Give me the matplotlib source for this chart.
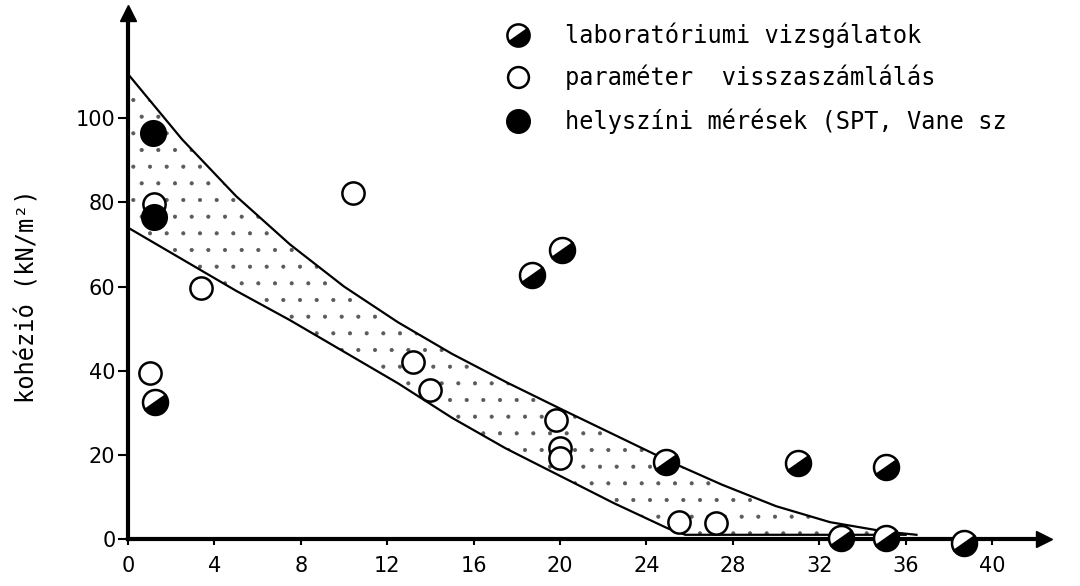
import matplotlib
matplotlib.use("Agg")
import matplotlib.pyplot as plt
import numpy as np
from matplotlib.markers import MarkerStyle
from matplotlib.transforms import Affine2D

# band limits
upper_x = [0.0, 2.5, 5.0, 7.5, 10.0, 12.5, 15.0, 17.5, 20.0, 22.5, 25.0, 27.5, 30.0, 32.5, 35.0, 36.5]
upper_y = [110.5, 95.0, 81.5, 70.0, 60.0, 51.5, 44.0, 37.3, 31.0, 24.8, 18.6, 12.9, 7.8, 4.0, 1.8, 1.0]
lower_x = [0.0, 2.5, 5.0, 7.5, 10.0, 12.5, 15.0, 17.5, 20.0, 22.5, 25.0, 25.8, 36.0]
lower_y = [74.0, 66.5, 59.0, 52.0, 44.5, 37.0, 28.8, 21.5, 15.0, 8.5, 2.5, 1.0, 1.0]

# laboratóriumi vizsgálatok (half filled)
lab_x = [1.25, 18.7, 20.1, 24.9, 31.0, 35.1, 33.0, 35.1, 38.7]
lab_y = [32.5, 62.7, 68.6, 18.2, 18.0, 17.1, 0.2, 0.2, -1.0]
# paraméter visszaszámlálás (open)
param_x = [1.2, 1.0, 3.4, 10.4, 13.2, 14.0, 19.8, 20.0, 20.0, 25.5, 27.2]
param_y = [79.5, 39.4, 59.6, 82.2, 42.0, 35.4, 28.3, 21.6, 19.2, 4.0, 3.8]
# helyszíni mérések (filled)
field_x = [1.15, 1.2]
field_y = [96.5, 76.5]

x_ticks = [0, 4, 8, 12, 16, 20, 24, 28, 32, 36, 40]
y_ticks = [0, 20, 40, 60, 80, 100]
labels = ["laboratóriumi vizsgálatok",
          "paraméter  visszaszámlálás",
          "helyszíni mérések (SPT, Vane sz"]

FONT = "DejaVu Sans Mono"
plt.rcParams["font.family"] = FONT
plt.rcParams["hatch.linewidth"] = 0.5

fig = plt.figure(figsize=(10.8, 5.86), dpi=100)
ax = fig.add_axes([0.1185, 0.0802, 0.8481, 0.8976])
ax.set_xlim(0, 42.4)
ax.set_ylim(0, 125)

for side in ["top", "right"]:
    ax.spines[side].set_visible(False)
for side in ["left", "bottom"]:
    ax.spines[side].set_linewidth(3)
    ax.spines[side].set_zorder(1)

ax.plot(1, 0, ">k", markersize=11, transform=ax.transAxes, clip_on=False)
ax.plot(0, 1, "^k", markersize=11, transform=ax.transAxes, clip_on=False)

ax.set_xticks(x_ticks)
ax.set_yticks(y_ticks)
ax.tick_params(axis="x", direction="out", length=4, width=1.5, pad=8, labelsize=15)
ax.tick_params(axis="y", direction="out", length=7, width=1.5, pad=2, labelsize=15)
for lbl in ax.get_xticklabels() + ax.get_yticklabels():
    lbl.set_family("DejaVu Sans")

# stippled band
band_x = np.r_[upper_x, lower_x[::-1]]
band_y = np.r_[upper_y, lower_y[::-1]]
ax.fill(band_x, band_y, facecolor="none", edgecolor="0.35", linewidth=0,
        hatch=".", zorder=1)
ax.plot(upper_x, upper_y, color="black", lw=1.6, zorder=2)
ax.plot(lower_x, lower_y, color="black", lw=1.6, zorder=2)

half = MarkerStyle("o", fillstyle="bottom", transform=Affine2D().rotate_deg(35))

ax.plot(param_x, param_y, "o", ms=16, mfc="white", mec="black", mew=1.8,
        ls="none", clip_on=False, zorder=3)
ax.plot(lab_x, lab_y, ls="none", marker=half, ms=18, mfc="black",
        mfcalt="white", mec="black", mew=1.8, clip_on=False, zorder=4)
ax.plot(field_x, field_y, "o", ms=18, mfc="black", mec="black", mew=1.5,
        ls="none", clip_on=False, zorder=4)

# legend
leg_mx = 0.4258
leg_tx = 0.477
rows = [0.958, 0.878, 0.795]
ax.plot(leg_mx, rows[0], ls="none", marker=half, ms=16, mfc="black",
        mfcalt="white", mec="black", mew=1.8, transform=ax.transAxes, clip_on=False)
ax.plot(leg_mx, rows[1], "o", ms=15, mfc="white", mec="black", mew=1.8,
        transform=ax.transAxes, clip_on=False)
ax.plot(leg_mx, rows[2], "o", ms=17, mfc="black", mec="black",
        transform=ax.transAxes, clip_on=False)
for yy, lab in zip(rows, labels):
    ax.text(leg_tx, yy, lab, transform=ax.transAxes, fontsize=17,
            ha="left", va="center")

fig.text(28 / 1080, 1 - 296 / 586, "kohézió (kN/m²)", rotation=90,
         fontsize=17, ha="center", va="center")

fig.savefig("out.png", dpi=100)
